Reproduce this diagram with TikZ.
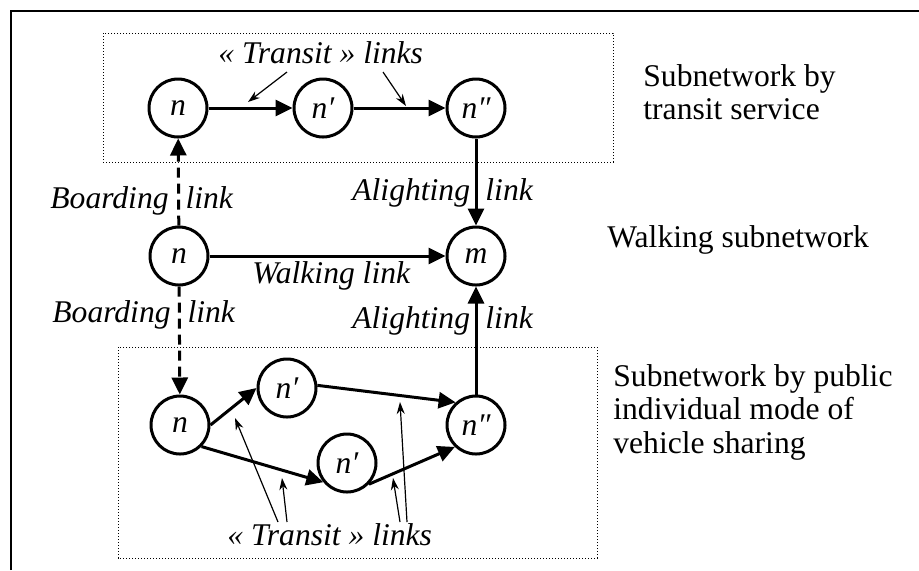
\documentclass[tikz,border=0pt]{standalone}
\usepackage{fontspec}
\setmainfont{Liberation Serif}
\usetikzlibrary{arrows.meta}

\newcommand{\figsize}{\fontsize{15.8}{16.75}\selectfont}

\tikzset{
	stop/.style={circle, draw, line width=1.5pt, minimum size=29pt, inner sep=0pt, font=\figsize\itshape},
	link/.style={line width=1.5pt, -{Triangle[length=8.5pt,width=8pt]}},
	board/.style={link, dash pattern=on 5pt off 3pt},
	pointer/.style={line width=0.6pt, -{Stealth[length=6pt,width=4pt]}},
	subnet/.style={line width=0.5pt, dash pattern=on 0.6pt off 0.9pt},
	lbl/.style={font=\figsize\itshape, inner sep=0pt, anchor=base west},
	side/.style={font=\figsize, align=left, inner sep=0pt, anchor=north west}
}

\begin{document}
\begin{tikzpicture}[x=0.5pt, y=-0.5pt]
		\useasboundingbox (0,0) rectangle (919,570);
		
		% Frame and subnetwork boxes
		\draw[line width=1pt] (11,570) -- (11,11) -- (919,11);
		\draw[subnet] (103,33) rectangle (613,162);
		\draw[subnet] (118,347) rectangle (597,558);
		
		% Transit subnetwork
		\node[stop] (tn) at (178,108) {n};
		\node[stop] (tn1) at (323,108) {n′};
		\node[stop] (tn2) at (476,108) {n″};
		
		% Walking subnetwork
		\node[stop] (wn) at (179,256) {n};
		\node[stop] (wm) at (476,256) {m};
		
		% Vehicle sharing subnetwork
		\node[stop] (bn) at (180,425) {n};
		\node[stop] (bn1) at (287,388) {n′};
		\node[stop] (bn2) at (347,463) {n′};
		\node[stop] (bn3) at (476,425) {n″};
		
		% Links
		\draw[link] (tn) -- (tn1);
		\draw[link] (tn1) -- (tn2);
		\draw[link] (tn2) -- (wm);
		\draw[link] (bn3) -- (wm);
		\draw[link] (wn) -- (wm);
		\draw[board] (wn) -- (tn);
		\draw[board] (wn) -- (bn);
		\draw[link] (bn.east) -- (bn1.west);
		\draw[link] (bn.-45) -- (bn2.219);
		\draw[link] (bn1.5) -- (bn3.132);
		\draw[link] (bn2.-44) -- (bn3.226);
		
		% Link labels
		\node[lbl] (ttop) at (218,63) {« Transit » links};
		\node[lbl] (tbot) at (227,545) {« Transit » links};
		\node[lbl] (bup) at (50,208) {Boarding\hspace{8.5pt}link};
		\node[lbl] (bdown) at (52,322) {Boarding\hspace{8.5pt}link};
		\node[lbl] (aup) at (352,200) {Alighting\hspace{7.7pt}link};
		\node[lbl] (adown) at (352,328) {Alighting\hspace{7.7pt}link};
		\node[lbl] (walk) at (252,283) {Walking link};
		
		% Pointers to the transit links
		\coordinate (p1) at (287,72);
		\coordinate (q1) at (248,102);
		\coordinate (p2) at (383,72);
		\coordinate (q2) at (406,106);
		\coordinate (p3) at (278,522);
		\coordinate (q3) at (235,418);
		\coordinate (p4) at (287,522);
		\coordinate (q4) at (282,478);
		\coordinate (p5) at (400,522);
		\coordinate (q5) at (393,478);
		\coordinate (p6) at (407,522);
		\coordinate (q6) at (400,402);
		\foreach \i in {1,...,6}
			\draw[pointer] (p\i) -- (q\i);
		
		% Subnetwork names
		\node[side] (sub1) at (643,64) {Subnetwork by\\transit service};
		\node[side] (sub2) at (607,225) {Walking subnetwork};
		\node[side] (sub3) at (613,364) {Subnetwork by public\\individual mode of\\vehicle sharing};
	\end{tikzpicture}
\end{document}
